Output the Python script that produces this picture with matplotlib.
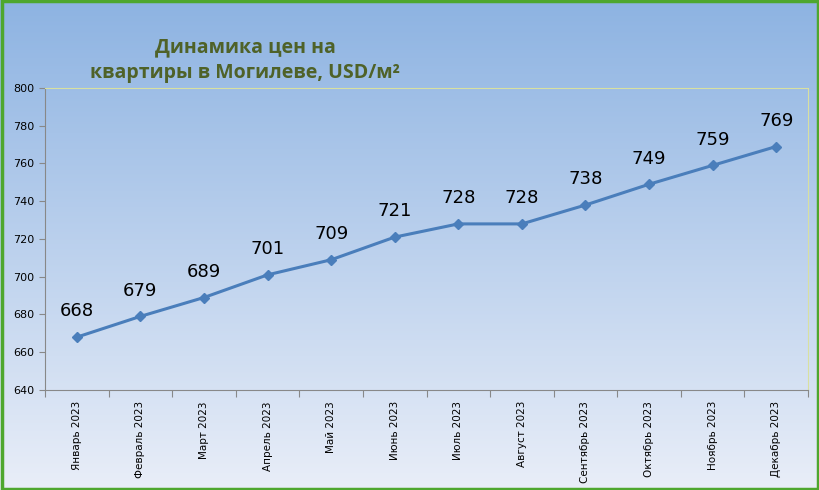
import matplotlib
matplotlib.use("Agg")
import matplotlib.pyplot as plt
import numpy as np
from matplotlib.colors import LinearSegmentedColormap

months = ["Январь 2023", "Февраль 2023", "Март 2023", "Апрель 2023", "Май 2023", "Июнь 2023",
          "Июль 2023", "Август 2023", "Сентябрь 2023", "Октябрь 2023", "Ноябрь 2023", "Декабрь 2023"]
prices = [668, 679, 689, 701, 709, 721, 728, 728, 738, 749, 759, 769]
yticks = [640, 660, 680, 700, 720, 740, 760, 780, 800]

fig = plt.figure(figsize=(8.2, 4.9), dpi=100)
bg = fig.add_axes([0, 0, 1, 1], zorder=-10)
cmap = LinearSegmentedColormap.from_list("g", ["#8db3e2", "#e9eef8"])
bg.imshow(np.linspace(0, 1, 256).reshape(-1, 1), aspect="auto", cmap=cmap, extent=[0, 1, 0, 1])
bg.set_xlim(0, 1); bg.set_ylim(0, 1); bg.axis("off")
bg.add_patch(plt.Rectangle((0.002, 0.003), 0.996, 0.994, fill=False, edgecolor="#4ea72e", lw=2.5,
                           transform=bg.transAxes))

ax = fig.add_axes([45/820, 1-390/490, (808-45)/820, (390-88)/490])
ax.patch.set_alpha(0)
x = np.arange(len(months))
ax.plot(x, prices, color="#4a7ebb", lw=2.2, marker="D", ms=5, mfc="#4a7ebb")
for xi, v in zip(x, prices):
    ax.annotate(str(v), (xi, v), xytext=(0, 12), textcoords="offset points",
                ha="center", va="bottom", fontsize=13, color="black")
ax.set_xlim(-0.5, len(months) - 0.5)
ax.set_ylim(640, 800)
ax.set_yticks(yticks)
ax.set_yticklabels([str(t) for t in yticks], fontsize=8)
ax.set_xticks(np.arange(len(months) + 1) - 0.5, minor=False)
ax.set_xticklabels([""] * (len(months) + 1))
ax.set_xticks(x, minor=True)
ax.set_xticklabels(months, minor=True, rotation=90, fontsize=7.5)
ax.tick_params(axis="x", which="minor", length=0, pad=8)
ax.tick_params(axis="x", which="major", length=5, color="#888888")
ax.tick_params(axis="y", length=4, color="#888888")
for s in ["top", "right"]:
    ax.spines[s].set_color("#d8e0a0")
for s in ["left", "bottom"]:
    ax.spines[s].set_color("#888888")

fig.text(245/820, 1-60/490, "Динамика цен на\nквартиры в Могилеве, USD/м²", ha="center", va="center",
         fontsize=14, fontweight="bold", color="#4f6228", linespacing=1.4, family="Open Sans")
fig.savefig("out.png", dpi=100)
